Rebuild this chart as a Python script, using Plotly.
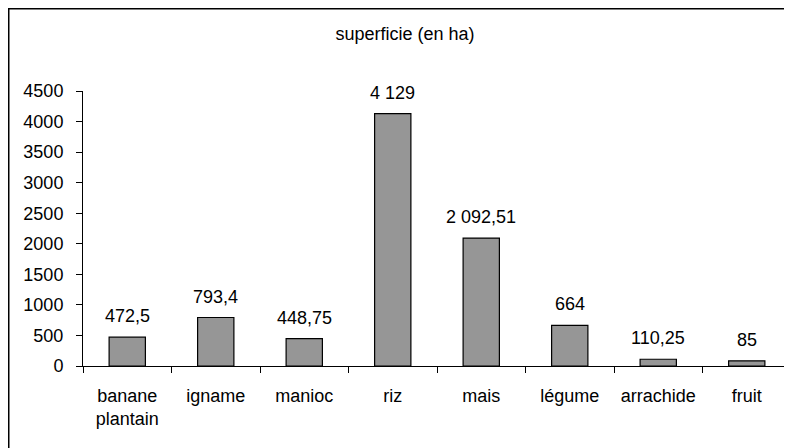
import plotly.graph_objects as go

categories = ["banane<br>plantain", "igname", "manioc", "riz", "mais", "légume", "arrachide", "fruit"]
values = [472.5, 793.4, 448.75, 4129, 2092.51, 664, 110.25, 85]
title_text = "superficie (en ha)"
y_ticks = [0, 500, 1000, 1500, 2000, 2500, 3000, 3500, 4000, 4500]

FONT = "Liberation Sans, Arial, sans-serif"

W, H = 792, 448
ML, MR, MT, MB = 75, 9, 83, 90
PW, PH = W - ML - MR, H - MT - MB

fig = go.Figure()
fig.add_trace(go.Bar(
    x=categories, y=values,
    marker=dict(color="#969696", line=dict(color="black", width=1.2)),
    width=0.41,
    hoverinfo="skip",
))

for c, v in zip(categories, values):
    fig.add_annotation(
        x=c, y=v, xref="x", yref="y",
        text=f"{v:,}".replace(",", " ").replace(".", ","),
        showarrow=False, yanchor="bottom", yshift=9,
        font=dict(family=FONT, size=18, color="black"),
    )

# border around the whole chart (paper edges)
fig.add_shape(type="rect", xref="paper", yref="paper",
              x0=(0.5 - ML) / PW, x1=(W - 0.5 - ML) / PW,
              y0=-(MB - 0.5) / PH, y1=1 + (MT - 0.5) / PH,
              line=dict(color="black", width=2), layer="above")

fig.update_layout(
    width=W, height=H,
    margin=dict(l=ML, r=MR, t=MT, b=MB),
    paper_bgcolor="white", plot_bgcolor="white",
    font=dict(family=FONT, size=18, color="black"),
    showlegend=False,
    title=dict(text=title_text, x=397 / W, xanchor="center", xref="container",
               y=1 - 26 / H, yanchor="middle", yref="container",
               font=dict(family=FONT, size=18, color="black")),
    bargap=0.59,
)
fig.update_xaxes(
    showline=True, linecolor="black", linewidth=1,
    ticks="outside", ticklen=6, tickcolor="black", tickwidth=1,
    tickson="boundaries", showgrid=False, zeroline=False,
    ticklabelstandoff=13,
    tickfont=dict(family=FONT, size=18, color="black"),
)
fig.update_yaxes(
    range=[0, 4500], tickvals=y_ticks, ticktext=[str(t) for t in y_ticks],
    showline=True, linecolor="black", linewidth=1,
    ticks="outside", ticklen=6, tickcolor="black", tickwidth=1,
    showgrid=False, zeroline=False,
    ticklabelstandoff=9,
    tickfont=dict(family=FONT, size=18, color="black"),
)

fig.write_html("out.html")
